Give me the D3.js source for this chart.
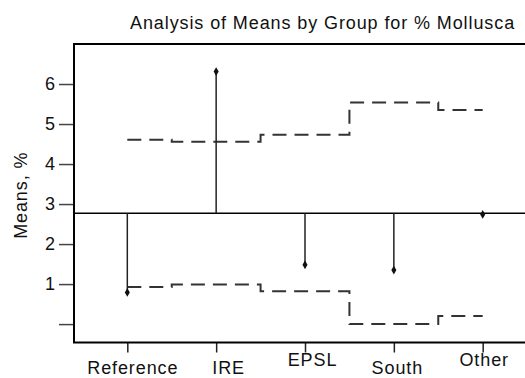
<!DOCTYPE html>
<html>
<head>
<meta charset="utf-8">
<script src="https://cdn.jsdelivr.net/npm/d3@7"></script>
<style>
body { margin: 0; background: #fff; }
text { font-family: "Liberation Sans", Arial, sans-serif; fill: #111; }
</style>
</head>
<body>
<script>
// data
var groups = ["Reference", "IRE", "EPSL", "South", "Other"];
var means = [0.79, 6.31, 1.48, 1.35, 2.74];
var upperLimits = [4.61, 4.56, 4.73, 5.54, 5.35];
var lowerLimits = [0.93, 0.99, 0.82, 0.0, 0.2];
var centerLine = 2.77;
var yTicks = [0, 1, 2, 3, 4, 5, 6];
var title = "Analysis of Means by Group for % Mollusca";
var yTitle = "Means, %";

var width = 525,
    height = 378,
    plot = { left: 74, top: 44, right: 536, bottom: 342.5 };

// label nudges (the original staggers some category labels)
var labelShift = [[5, 0], [12, 0], [7, -8], [3, 0], [1, -8]];

var x = d3.scalePoint()
    .domain(groups)
    .range([plot.left, plot.right])
    .padding(0.6);

var y = d3.scaleLinear()
    .domain([-0.46, 7.0])
    .range([plot.bottom, plot.top]);

var svg = d3.select("body").append("svg")
    .attr("width", width)
    .attr("height", height);

svg.append("text")
    .attr("x", 130)
    .attr("y", 29)
    .style("font-size", "18px")
    .style("letter-spacing", "0.9px")
    .text(title);

svg.append("text")
    .attr("transform", "translate(27," + ((plot.top + plot.bottom) / 2 + 2) + ") rotate(-90)")
    .attr("text-anchor", "middle")
    .style("font-size", "18px")
    .style("letter-spacing", "0.9px")
    .text(yTitle);

// y axis
var yAxis = svg.append("g")
    .attr("transform", "translate(" + plot.left + ",0)")
    .call(d3.axisLeft(y)
        .tickValues(yTicks)
        .tickSize(15)
        .tickPadding(4)
        .tickFormat(function (d) { return d === 0 ? "" : d; }));
yAxis.select(".domain").remove();
yAxis.selectAll(".tick line").attr("stroke", "#444").attr("stroke-width", 1.5);
yAxis.selectAll(".tick text")
    .style("font-size", "18px")
    .style("font-family", "'Liberation Sans', Arial, sans-serif")
    .attr("fill", "#111");

// x axis
var xAxis = svg.append("g")
    .attr("transform", "translate(0," + plot.bottom + ")")
    .call(d3.axisBottom(x).tickSize(10).tickPadding(6));
xAxis.select(".domain").remove();
xAxis.selectAll(".tick line").attr("stroke", "#222").attr("stroke-width", 1.5);
xAxis.selectAll(".tick text")
    .style("font-size", "18px")
    .style("letter-spacing", "0.9px")
    .style("font-family", "'Liberation Sans', Arial, sans-serif")
    .attr("fill", "#111")
    .attr("dy", null)
    .attr("y", function (d, i) { return 31.5 + labelShift[i][1]; })
    .attr("dx", function (d, i) { return labelShift[i][0]; });

// frame
svg.append("rect")
    .attr("x", plot.left)
    .attr("y", plot.top)
    .attr("width", plot.right - plot.left)
    .attr("height", plot.bottom - plot.top)
    .attr("fill", "none")
    .attr("stroke", "#000")
    .attr("stroke-width", 2);

// center line
svg.append("line")
    .attr("x1", plot.left)
    .attr("x2", plot.right)
    .attr("y1", y(centerLine))
    .attr("y2", y(centerLine))
    .attr("stroke", "#000")
    .attr("stroke-width", 1.5);

// decision limits
var limitLine = d3.line()
    .x(function (d, i) { return x(groups[i]); })
    .y(function (d) { return y(d); })
    .curve(d3.curveStep);

[upperLimits, lowerLimits].forEach(function (lims) {
    svg.append("path")
        .attr("d", limitLine(lims))
        .attr("fill", "none")
        .attr("stroke", "#333")
        .attr("stroke-width", 2)
        .attr("stroke-dasharray", "14,8");
});

// spikes from center line to group means
svg.selectAll(".spike")
    .data(means)
    .enter().append("line")
    .attr("class", "spike")
    .attr("x1", function (d, i) { return x(groups[i]); })
    .attr("x2", function (d, i) { return x(groups[i]); })
    .attr("y1", y(centerLine))
    .attr("y2", function (d) { return y(d); })
    .attr("stroke", "#222")
    .attr("stroke-width", 1.5);

svg.selectAll(".pt")
    .data(means)
    .enter().append("path")
    .attr("class", "pt")
    .attr("d", d3.symbol().type(d3.symbolDiamond).size(22))
    .attr("transform", function (d, i) { return "translate(" + x(groups[i]) + "," + y(d) + ")"; })
    .attr("fill", "#111");
</script>
</body>
</html>
